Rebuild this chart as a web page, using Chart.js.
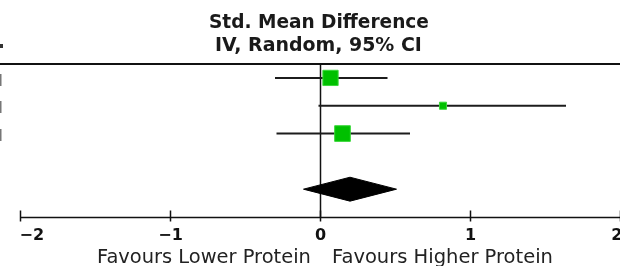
<!DOCTYPE html>
<html>
<head>
<meta charset="utf-8">
<script src="https://cdn.jsdelivr.net/npm/chart.js@4/dist/chart.umd.min.js"></script>
<style>
  body { margin: 0; background: #fff; }
  .wrap { width: 620px; height: 266px; position: relative; }
</style>
</head>
<body>
<div class="wrap"><canvas id="forest"></canvas></div>
<script>
// study rows (top to bottom)
const estimates = [0.07, 0.82, 0.15];
const ciLow = [-0.30, -0.01, -0.29];
const ciHigh = [0.45, 1.64, 0.60];
const weights = [44, 9.5, 46.5];

// pooled effect (random effects)
const pooled = [-0.11, 0.20, 0.51]; // low, estimate, high

const tickValues = [-2, -1, 0, 1, 2];
const tickLabels = ["\u22122", "\u22121", "0", "1", "2"];
const titleLines = ["Std. Mean Difference", "IV, Random, 95% CI"];
const favoursLeft = "Favours Lower Protein";
const favoursRight = "Favours Higher Protein";

const FONT = "'DejaVu Sans', Verdana, sans-serif";
const GREEN = "#00c000";
const INK = "#1c1c1c";
const pooledRow = 4.5;
const diamondHalf = 0.43;

function rowY(i) {
    return i + 0.5;
}

function fitFont(ctx, text, weight, width) {
    ctx.font = weight + " 100px " + FONT;
    const size = 100 * width / ctx.measureText(text).width;
    return weight + " " + size.toFixed(2) + "px " + FONT;
}

const datasets = [];

// confidence interval lines
for (let i = 0; i < estimates.length; i++) {
    datasets.push({
        type: "line",
        data: [{ x: ciLow[i], y: rowY(i) }, { x: ciHigh[i], y: rowY(i) }],
        borderColor: INK,
        borderWidth: 2,
        pointRadius: 0,
        order: 3,
    });
}

// weighted squares
datasets.push({
    type: "scatter",
    data: estimates.map((v, i) => ({ x: v, y: rowY(i) })),
    pointStyle: "rect",
    pointRadius: weights.map((w) => (2.3 * Math.sqrt(w)) / Math.SQRT2),
    backgroundColor: GREEN,
    borderColor: "#3ad83a",
    borderWidth: 1,
    order: 1,
});

// pooled diamond
datasets.push({
    type: "line",
    data: [
        { x: pooled[0], y: pooledRow },
        { x: pooled[1], y: pooledRow - diamondHalf },
        { x: pooled[2], y: pooledRow },
        { x: pooled[1], y: pooledRow + diamondHalf },
        { x: pooled[0], y: pooledRow },
    ],
    borderColor: "#000",
    backgroundColor: "#000",
    borderWidth: 1,
    pointRadius: 0,
    tension: 0,
    fill: "shape",
    order: 2,
});

const forestDecor = {
    id: "forestDecor",
    beforeDatasetsDraw(chart) {
        const ctx = chart.ctx;
        const xs = chart.scales.x;
        const area = chart.chartArea;
        ctx.save();
        // header rule
        ctx.strokeStyle = "#111";
        ctx.lineWidth = 2;
        ctx.beginPath();
        ctx.moveTo(0, area.top);
        ctx.lineTo(chart.width, area.top);
        ctx.stroke();
        // line of no effect
        const x0 = Math.round(xs.getPixelForValue(0)) + 0.5;
        ctx.lineWidth = 1.5;
        ctx.beginPath();
        ctx.moveTo(x0, area.top);
        ctx.lineTo(x0, area.bottom);
        ctx.stroke();
        ctx.restore();
    },
    afterDraw(chart) {
        const ctx = chart.ctx;
        const xs = chart.scales.x;
        const area = chart.chartArea;
        ctx.save();
        // axis
        const yAxis = area.bottom + 0.5;
        ctx.strokeStyle = "#111";
        ctx.lineWidth = 1.5;
        ctx.beginPath();
        ctx.moveTo(xs.getPixelForValue(tickValues[0]), yAxis);
        ctx.lineTo(xs.getPixelForValue(tickValues[tickValues.length - 1]), yAxis);
        ctx.stroke();
        ctx.fillStyle = "#111";
        ctx.font = "bold 16px " + FONT;
        ctx.textBaseline = "alphabetic";
        tickValues.forEach((v, i) => {
            const px = Math.round(xs.getPixelForValue(v)) + 0.5;
            ctx.beginPath();
            ctx.moveTo(px, yAxis - 7);
            ctx.lineTo(px, yAxis + 4);
            ctx.stroke();
            ctx.textAlign = i === 0 ? "left" : i === tickValues.length - 1 ? "right" : "center";
            const lx = i === 0 ? px - 1 : i === tickValues.length - 1 ? px + 2 : px;
            ctx.fillText(tickLabels[i], lx, 240);
        });
        // favours labels
        ctx.fillStyle = "#222";
        ctx.textAlign = "left";
        ctx.font = fitFont(ctx, favoursLeft, "normal", 214);
        ctx.fillText(favoursLeft, 97, 263);
        ctx.font = fitFont(ctx, favoursRight, "normal", 221);
        ctx.fillText(favoursRight, 332, 263);
        // column heading
        ctx.fillStyle = "#1a1a1a";
        ctx.font = fitFont(ctx, titleLines[0], "bold", 220);
        ctx.fillText(titleLines[0], 209, 28);
        ctx.font = fitFont(ctx, titleLines[1], "bold", 207);
        ctx.fillText(titleLines[1], 215, 51);
        // clipped text from the table on the left
        ctx.fillStyle = "#333";
        ctx.fillRect(0, 44, 3, 4);
        ctx.fillStyle = "#777";
        [74, 101, 129].forEach((y) => ctx.fillRect(0, y, 1.5, 12));
        ctx.restore();
    },
};

new Chart(document.getElementById("forest"), {
    data: { datasets: datasets },
    options: {
        responsive: true,
        maintainAspectRatio: false,
        animation: false,
        layout: { autoPadding: false, padding: { left: 20, right: 0, top: 64, bottom: 49 } },
        plugins: {
            legend: { display: false },
            tooltip: { enabled: false },
        },
        scales: {
            x: { type: "linear", min: -2, max: 2, display: false },
            y: { type: "linear", min: 0, max: 5.5, reverse: true, display: false },
        },
    },
    plugins: [forestDecor],
});
</script>
</body>
</html>
